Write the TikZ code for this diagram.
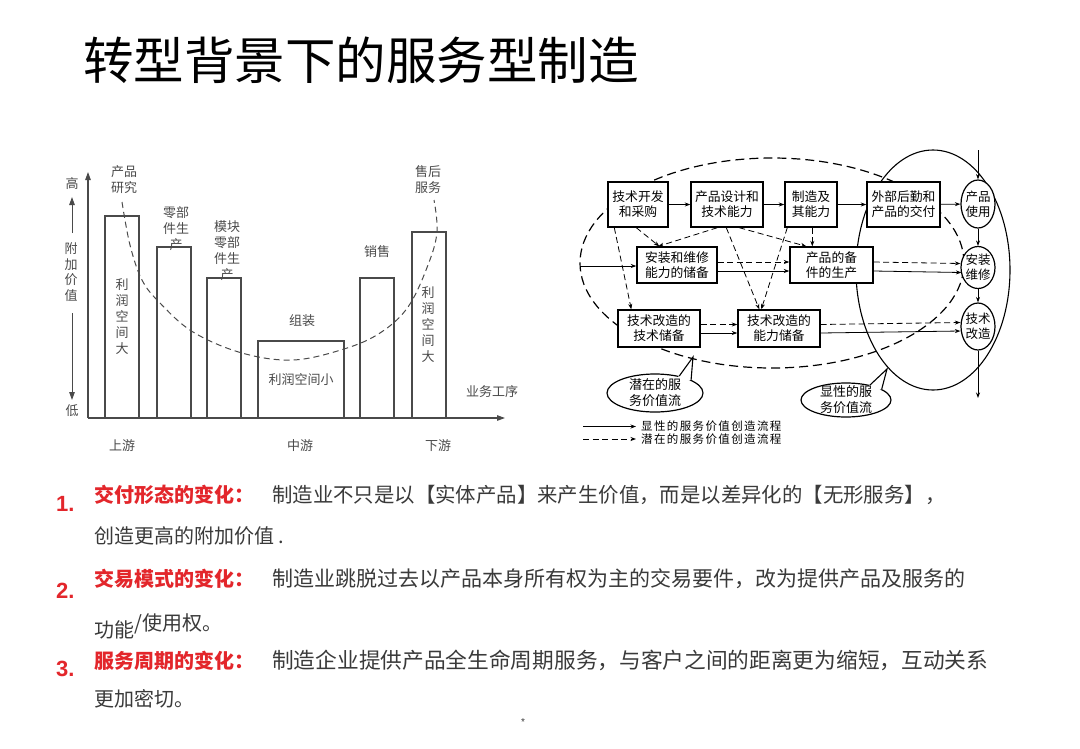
\documentclass[tikz,border=0pt]{standalone}
\usepackage{fontspec}
\setmainfont{Liberation Sans}
\newfontfamily\cjk{Noto Sans CJK SC}
\newfontfamily\cjkls[LetterSpace=12]{Noto Sans CJK SC}
\usetikzlibrary{arrows.meta,shapes.geometric,calc}
\definecolor{chartc}{HTML}{4A4A4A}
\definecolor{bodyc}{HTML}{3A3A3A}
\definecolor{redc}{HTML}{E3262B}
\begin{document}
\begin{tikzpicture}[x=1pt,y=-1pt,
  cl/.style={font=\cjk\fontsize{13}{16}\selectfont, text=chartc, align=center, inner sep=0},
  bar/.style={draw=chartc, line width=1.1pt},
  axis/.style={draw=chartc, line width=1.1pt, -{Triangle[length=8pt,width=5.5pt]}},
  box/.style={draw=black, line width=1.4pt, fill=white, inner sep=0, align=center, font=\cjk\fontsize{12.8}{15}\selectfont},
  ell/.style={ellipse, draw=black, line width=1.2pt, fill=white, inner sep=0},
  etxt/.style={font=\cjk\fontsize{12.5}{15}\selectfont, align=center, inner sep=0},
  sol/.style={draw=black, line width=0.8pt, -{Stealth[length=5.5pt,width=4pt]}},
  das/.style={sol, dash pattern=on 6pt off 3.5pt},
  head/.style={font=\cjk\bfseries\fontsize{20}{24}\selectfont, text=redc, anchor=base west, inner sep=0},
  num/.style={font=\bfseries\fontsize{22}{24}\selectfont, text=redc, anchor=base west, inner sep=0},
  body/.style={font=\cjk\fontsize{20}{24}\selectfont, text=bodyc, anchor=base west, inner sep=0}
]
\useasboundingbox[fill=white] (0,0) rectangle (1080,748);

% title
\node[anchor=west, inner sep=0, font=\cjk\fontsize{50.5}{56}\selectfont] (title) at (83,60) {转型背景下的服务型制造};

% ================= left chart =================
\coordinate (o) at (88,418);
\coordinate (ytop) at (88,172);
\coordinate (xend) at (505,418);
\draw[axis] (o) -- (ytop);
\draw[axis] (o) -- (xend);
\draw[bar] (105,418) rectangle (139,216);
\draw[bar] (157,418) rectangle (191,247);
\draw[bar] (207,418) rectangle (241,278);
\draw[bar] (258,418) rectangle (344,341);
\draw[bar] (360,418) rectangle (394,278);
\draw[bar] (412,418) rectangle (446,232);

\draw[chartc, line width=1pt, dash pattern=on 6pt off 4pt] plot[smooth, tension=0.6] coordinates {
 (122,202) (130,245) (142,280) (160,303) (193,332) (242,353) (293,360) (344,349) (380,333) (408,307) (428,265) (437,232) (434,200)};

\node[cl] (gao) at (72,184) {高};
\node[cl] (di) at (72,411) {低};
\coordinate (ua) at (72,233); \coordinate (ub) at (72,197);
\coordinate (da) at (72,313); \coordinate (db) at (72,400);
\draw[axis, line width=1pt] (ua) -- (ub);
\draw[axis, line width=1pt] (da) -- (db);
\node[cl, font=\cjk\fontsize{13}{15.5}\selectfont] (fjjz) at (71,272) {附\\加\\价\\值};
\node[cl] (l1) at (124,180) {产品\\研究};
\node[cl] (l2) at (176,229) {零部\\件生\\产};
\node[cl] (l3) at (227,251) {模块\\零部\\件生\\产};
\node[cl] (l4) at (302,321) {组装};
\node[cl] (l4b) at (301,380) {利润空间小};
\node[cl] (l5) at (377,252) {销售};
\node[cl] (l6) at (428,180) {售后\\服务};
\node[cl] (r1) at (122,317) {利\\润\\空\\间\\大};
\node[cl] (r6) at (428,325) {利\\润\\空\\间\\大};
\node[cl] (sy) at (122,446) {上游};
\node[cl] (zy) at (300,446) {中游};
\node[cl] (xy) at (438,446) {下游};
\node[cl] (ywgx) at (492,392) {业务工序};

% ================= right diagram =================
\draw[black, line width=1.2pt, dash pattern=on 9pt off 5pt] (772,263) ellipse [x radius=192pt, y radius=105pt];
\draw[black, line width=1.1pt] (933,270) ellipse [x radius=77pt, y radius=120pt];

\node[box, minimum width=60, minimum height=45] (b1) at (638,204.5) {技术开发\\和采购};
\node[box, minimum width=72, minimum height=45] (b2) at (727,204.5) {产品设计和\\技术能力};
\node[box, minimum width=52, minimum height=45] (b3) at (811,204.5) {制造及\\其能力};
\node[box, minimum width=73, minimum height=45] (b4) at (903.5,204.5) {外部后勤和\\产品的交付};
\node[box, minimum width=80, minimum height=36] (b5) at (677,265) {安装和维修\\能力的储备};
\node[box, minimum width=83, minimum height=36] (b6) at (831.5,265) {产品的备\\件的生产};
\node[box, minimum width=82, minimum height=37] (b7) at (659,328.5) {技术改造的\\技术储备};
\node[box, minimum width=82, minimum height=37] (b8) at (779,328.5) {技术改造的\\能力储备};

\node[ell, minimum width=34, minimum height=48] (e1) at (978,204) {};
\node[ell, minimum width=34, minimum height=42] (e2) at (978,267.5) {};
\node[ell, minimum width=34, minimum height=47] (e3) at (978,326.5) {};
\node[etxt] at (e1) {产品\\使用};
\node[etxt] at (e2) {安装\\维修};
\node[etxt] at (e3) {技术\\改造};

% solid flow
\draw[sol] (b1) -- (b2);
\draw[sol] (b2) -- (b3);
\draw[sol] (b3) -- (b4);
\draw[sol] (b4) -- (e1);
\coordinate (in5) at (580,266);
\draw[sol] (in5) -- (in5 -| b5.west);
\draw[das] ($(b5.east)+(0,-3)$) -- ($(b6.west)+(0,-3)$);
\draw[sol] ($(b5.east)+(0,6)$) -- ($(b6.west)+(0,6)$);
\draw[das] ($(b6.east)+(0,-3)$) -- ($(e2.west)+(0,-4)$);
\draw[sol] ($(b6.east)+(0,6)$) -- ($(e2.west)+(1,5)$);
\draw[das] ($(b7.east)+(0,-4)$) -- ($(b8.west)+(0,-4)$);
\draw[sol] ($(b7.east)+(0,4.5)$) -- ($(b8.west)+(0,4.5)$);
\draw[das] ($(b8.east)+(0,-4)$) -- ($(e3.west)+(0,-4)$);
\draw[sol] ($(b8.east)+(0,4.5)$) -- ($(e3.west)+(0,4.5)$);

\coordinate (vtop) at (978,150);
\coordinate (vbot) at (978,398);
\draw[sol] (vtop) -- (e1.north);
\draw[sol] (e1.south) -- (e2.north);
\draw[sol] (e2.south) -- (e3.north);
\draw[sol] (e3.south) -- (vbot);

% dashed flow
\draw[das] ($(b1.south west)+(29,0)$) -- ($(b5.north west)+(23,0)$);
\draw[das] ($(b2.south west)+(27,0)$) -- ($(b5.north west)+(22,0)$);
\draw[das] ($(b1.south west)+(7,0)$) -- ($(b7.north west)+(14,0)$);
\draw[das] ($(b2.south west)+(36,0)$) -- ($(b8.north west)+(22,0)$);
\draw[das] ($(b2.south west)+(49,0)$) -- ($(b6.north west)+(17,0)$);
\draw[das] ($(b3.south west)+(28,0)$) -- ($(b6.north west)+(23,0)$);
\draw[das] ($(b3.south west)+(3,0)$) -- ($(b8.north west)+(24,0)$);

% bubbles
\node[ellipse, draw=black, line width=1.2pt, fill=white, minimum width=96, minimum height=38, inner sep=0] (bub1) at (655,393) {};
\coordinate (tip1) at (693,357);
\fill[white] (bub1.35) -- (tip1) -- (bub1.20) -- ($(bub1.20)!0.15!(bub1.center)$) -- ($(bub1.35)!0.15!(bub1.center)$) -- cycle;
\draw[black, line width=1.1pt] (bub1.35) -- (tip1) -- (bub1.20);
\node[etxt, font=\cjk\fontsize{13}{16}\selectfont] (bt1) at (bub1) {潜在的服\\务价值流};

\node[ellipse, draw=black, line width=1.2pt, fill=white, minimum width=90, minimum height=34, inner sep=0] (bub2) at (846,400) {};
\coordinate (tip2) at (887,369);
\fill[white] (bub2.32) -- (tip2) -- (bub2.17) -- ($(bub2.17)!0.15!(bub2.center)$) -- ($(bub2.32)!0.15!(bub2.center)$) -- cycle;
\draw[black, line width=1.1pt] (bub2.32) -- (tip2) -- (bub2.17);
\node[etxt, font=\cjk\fontsize{13}{16}\selectfont] (bt2) at (bub2) {显性的服\\务价值流};

% legend
\coordinate (la1) at (583,426.5); \coordinate (lb1) at (636,426.5);
\coordinate (la2) at (583,439); \coordinate (lb2) at (636,439);
\draw[sol] (la1) -- (lb1);
\draw[das] (la2) -- (lb2);
\node[anchor=west, inner sep=0, font=\cjkls\fontsize{11.5}{13}\selectfont] (lt1) at (641,426.5) {显性的服务价值创造流程};
\node[anchor=west, inner sep=0, font=\cjkls\fontsize{11.5}{13}\selectfont] (lt2) at (641,439) {潜在的服务价值创造流程};

% ================= bottom text =================
\node[num] (n1) at (56,511) {1.};
\node[head] (h1) at (94,502) {交付形态的变化：};
\node[body, font=\cjk\fontsize{20.4}{24}\selectfont] (t1) at (272,502) {制造业不只是以【实体产品】来产生价值，而是以差异化的【无形服务】，};
\node[body] (t1b) at (94,543) {创造更高的附加价值 .};

\node[num] (n2) at (56,598) {2.};
\node[head] (h2) at (94,586) {交易模式的变化：};
\node[body, font=\cjk\fontsize{21}{24}\selectfont] (t2) at (272,586) {制造业跳脱过去以产品本身所有权为主的交易要件，改为提供产品及服务的};
\node[body] (t2b) at (94,637) {功能};
\node[body] (t2c) at (t2b.base east) [yshift=7pt] {/使用权。};

\node[num] (n3) at (56,676) {3.};
\node[head] (h3) at (94,668) {服务周期的变化：};
\node[body, font=\cjk\fontsize{21.7}{24}\selectfont] (t3) at (272,668) {制造企业提供产品全生命周期服务，与客户之间的距离更为缩短，互动关系};
\node[body] (t3b) at (94,706) {更加密切。};

\node[font=\fontsize{10}{10}\selectfont, text=bodyc, inner sep=0] (star) at (523,722) {*};
\end{tikzpicture}
\end{document}
